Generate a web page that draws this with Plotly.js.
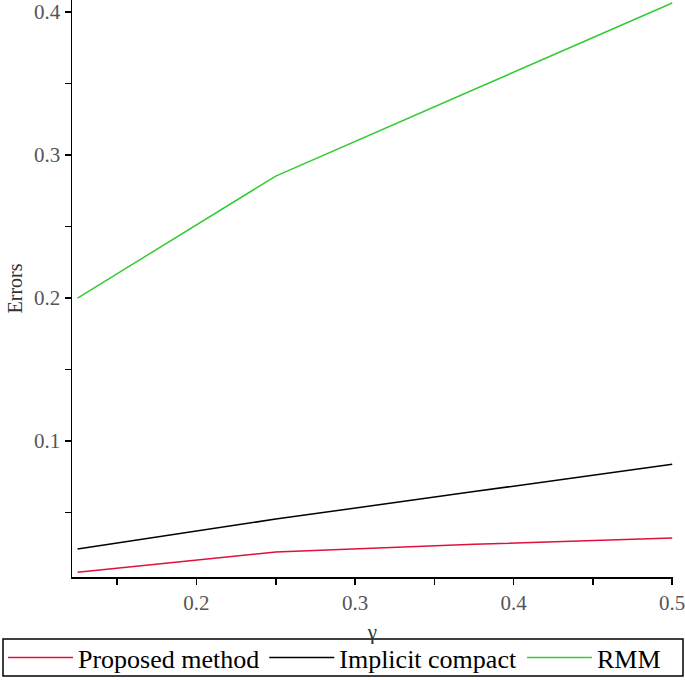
<!DOCTYPE html>
<html>
<head>
<meta charset="utf-8">
<script src="https://cdn.plot.ly/plotly-3.0.1.min.js"></script>
<style>html,body{margin:0;padding:0;background:#fff;}#chart{width:685px;height:680px;}</style>
</head>
<body>
<div id="chart"></div>
<script>
const gamma = [0.125, 0.25, 0.375, 0.5];
const proposed = [0.0084, 0.0224, 0.0279, 0.0322];
const implicit = [0.0245, 0.0455, 0.0647, 0.0839];
const rmm = [0.200, 0.2853, 0.3458, 0.4063];
const seriesNames = ["Proposed method", "Implicit compact", "RMM"];
const xTickVals = [0.2, 0.3, 0.4, 0.5];
const yTickVals = [0.1, 0.2, 0.3, 0.4];

const font = "Liberation Serif, Times New Roman, serif";
const traces = [
  {x: gamma, y: proposed, name: seriesNames[0], mode: "lines", line: {color: "#e0103a", width: 1.5}},
  {x: gamma, y: implicit, name: seriesNames[1], mode: "lines", line: {color: "#000000", width: 1.5}},
  {x: gamma, y: rmm, name: seriesNames[2], mode: "lines", line: {color: "#33cc33", width: 1.5}}
];
const layout = {
  width: 685, height: 680,
  margin: {l: 72, r: 12, t: 0, b: 103, autoexpand: false},
  paper_bgcolor: "#fff", plot_bgcolor: "#fff",
  font: {family: font, color: "#444"},
  showlegend: true,
  legend: {
    orientation: "h", x: (3 - 72) / 601, xanchor: "left", y: (577 - 634) / 577, yanchor: "top",
    font: {family: font, size: 26, color: "#000"},
    itemwidth: 65, borderwidth: 0, bgcolor: "rgba(0,0,0,0)"
  },
  xaxis: {
    range: [0.1215, 0.5005], showgrid: false, zeroline: false,
    showline: true, linecolor: "#000", linewidth: 1.5,
    ticks: "outside", ticklen: 6, tickcolor: "#000", tickwidth: 1.5,
    tickvals: xTickVals, ticktext: xTickVals.map(v => v.toFixed(1)),
    tickfont: {family: font, size: 21, color: "#555"},
    ticklabeloverflow: "allow",
    minor: {tickvals: [0.15, 0.25, 0.35, 0.45], ticks: "outside", ticklen: 6, tickcolor: "#000", tickwidth: 1.5},
    title: {text: "γ", font: {family: font, size: 21, color: "#333"}, standoff: 10},
    automargin: false
  },
  yaxis: {
    range: [0.005, 0.4084], showgrid: false, zeroline: false,
    showline: true, linecolor: "#000", linewidth: 1.5,
    ticks: "outside", ticklen: 6, tickcolor: "#000", tickwidth: 1.5,
    tickvals: yTickVals, ticktext: yTickVals.map(v => v.toFixed(1)),
    tickfont: {family: font, size: 21, color: "#555"},
    ticklabeloverflow: "allow",
    minor: {tickvals: [0.05, 0.15, 0.25, 0.35], ticks: "outside", ticklen: 6, tickcolor: "#000", tickwidth: 1.5},
    title: {text: "Errors", font: {family: font, size: 20, color: "#333"}},
    automargin: false
  },
  shapes: [{
    type: "rect", xref: "paper", yref: "paper",
    x0: (3 - 72) / 601, x1: (683 - 72) / 601,
    y0: (577 - 676) / 577, y1: (577 - 639) / 577,
    line: {color: "#000", width: 1.5}, fillcolor: "rgba(0,0,0,0)"
  }]
};
Plotly.newPlot("chart", traces, layout, {displayModeBar: false, staticPlot: true});
</script>
</body>
</html>
